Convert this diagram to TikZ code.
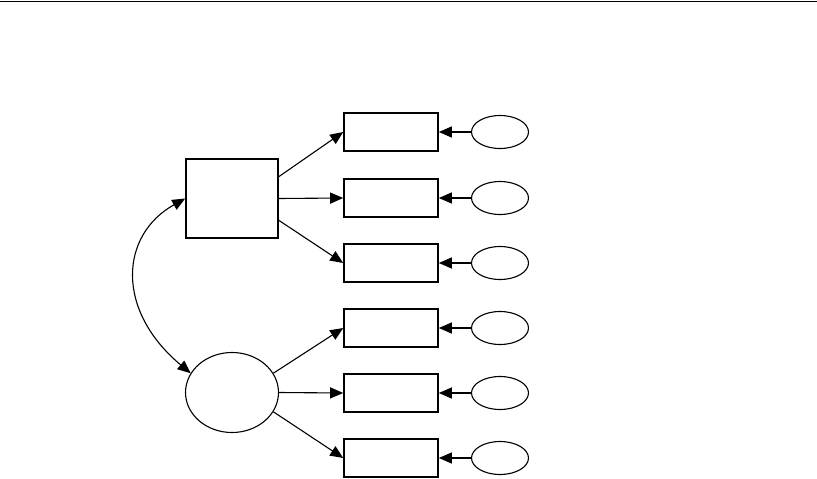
\documentclass[tikz,border=0pt]{standalone}
\usepackage{tikz}
\usetikzlibrary{arrows.meta,shapes.geometric}

\begin{document}
\begin{tikzpicture}[x=1pt,y=-1pt,font=\scriptsize,
  obs/.style={draw,line width=1.6pt,minimum width=94pt,minimum height=38pt,inner sep=0pt},
  err/.style={draw,ellipse,line width=1.1pt,minimum width=57pt,minimum height=33pt,inner sep=0pt},
  path/.style={line width=1.1pt,-{Triangle[length=13pt,width=11pt]}}]
  \useasboundingbox (0,0) rectangle (817,479);
  \draw[line width=1.3pt] (0,1.5) -- (817,1.5);
  \node[draw,line width=1.6pt,minimum width=92pt,minimum height=79pt,inner sep=0pt] (f1) at (232,198.5) {};
  \node[draw,ellipse,line width=1.1pt,minimum width=93pt,minimum height=80pt,inner sep=0pt] (f2) at (232,392.5) {};
  \node[obs] (x1) at (391,132) {};
  \node[obs] (x2) at (391,198) {};
  \node[obs] (x3) at (391,263) {};
  \node[obs] (x4) at (391,328) {};
  \node[obs] (x5) at (391,393) {};
  \node[obs] (x6) at (391,458) {};
  \node[err] (e1) at (500,132) {};
  \node[err] (e2) at (500,198) {};
  \node[err] (e3) at (500,263) {};
  \node[err] (e4) at (500,328) {};
  \node[err] (e5) at (500,393) {};
  \node[err] (e6) at (500,458) {};
  \draw[path] (f1.25) -- (x1.west);
  \draw[path] (f1.east) -- (x2.west);
  \draw[path] (f1.-25) -- (x3.west);
  \draw[path] (f2.25) -- (x4.west);
  \draw[path] (f2.east) -- (x5.west);
  \draw[path] (f2.-25) -- (x6.west);
  \draw[path] (e1) -- (x1);
  \draw[path] (e2) -- (x2);
  \draw[path] (e3) -- (x3);
  \draw[path] (e4) -- (x4);
  \draw[path] (e5) -- (x5);
  \draw[path] (e6) -- (x6);
  \draw[path,{Triangle[length=13pt,width=11pt]}-{Triangle[length=13pt,width=11pt]}]
    (f1.west) .. controls (120,235) and (115,310) .. (f2.155);
\end{tikzpicture}
\end{document}
